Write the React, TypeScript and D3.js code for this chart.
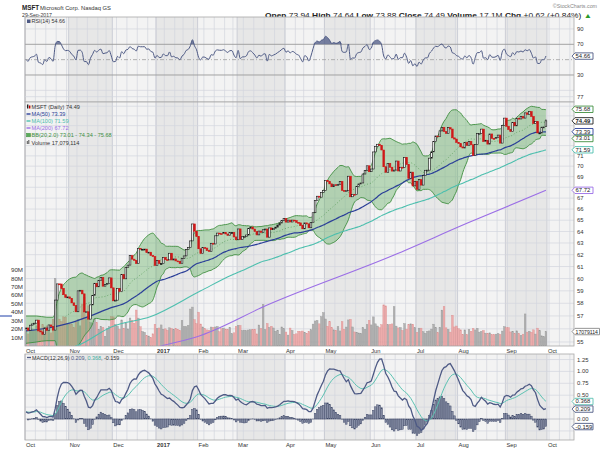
import React from "react";
import * as d3 from "d3";

// ---------------- DATA ----------------
const MONTHS = [
  { year: 2016, month: 9, label: "Oct", days: [3,4,5,6,7,10,11,12,13,14,17,18,19,20,21,24,25,26,27,28,31] },
  { year: 2016, month: 10, label: "Nov", days: [1,2,3,4,7,8,9,10,11,14,15,16,17,18,21,22,23,25,28,29,30] },
  { year: 2016, month: 11, label: "Dec", days: [1,2,5,6,7,8,9,12,13,14,15,16,19,20,21,22,23,27,28,29,30] },
  { year: 2017, month: 0, label: "2017", days: [3,4,5,6,9,10,11,12,13,17,18,19,20,23,24,25,26,27,30,31] },
  { year: 2017, month: 1, label: "Feb", days: [1,2,3,6,7,8,9,10,13,14,15,16,17,21,22,23,24,27,28] },
  { year: 2017, month: 2, label: "Mar", days: [1,2,3,6,7,8,9,10,13,14,15,16,17,20,21,22,23,24,27,28,29,30,31] },
  { year: 2017, month: 3, label: "Apr", days: [3,4,5,6,7,10,11,12,13,17,18,19,20,21,24,25,26,27,28] },
  { year: 2017, month: 4, label: "May", days: [1,2,3,4,5,8,9,10,11,12,15,16,17,18,19,22,23,24,25,26,30,31] },
  { year: 2017, month: 5, label: "Jun", days: [1,2,5,6,7,8,9,12,13,14,15,16,19,20,21,22,23,26,27,28,29,30] },
  { year: 2017, month: 6, label: "Jul", days: [3,5,6,7,10,11,12,13,14,17,18,19,20,21,24,25,26,27,28,31] },
  { year: 2017, month: 7, label: "Aug", days: [1,2,3,4,7,8,9,10,11,14,15,16,17,18,21,22,23,24,25,28,29,30,31] },
  { year: 2017, month: 8, label: "Sep", days: [1,5,6,7,8,11,12,13,14,15,18,19,20,21,22,25,26,27,28,29] },
];
const NEXT_MONTH_LABEL = "Oct";

// daily closes (unadjusted)
const CLOSE_OCT16 = [57.42,57.24,57.64,57.74,57.80,58.04,57.19,57.11,56.92,57.42,57.22,57.66,57.53,57.25,59.66,61.00,60.99,60.63,60.10,59.87,59.92];
const CLOSE_NOV16 = [59.80,59.43,59.21,58.71,60.42,60.47,60.17,58.70,58.71,58.12,58.87,59.65,60.64,60.35,60.86,61.12,60.40,60.53,60.61,61.09,60.26];
const CLOSE_DEC16 = [59.20,59.25,60.22,59.95,61.37,61.01,61.97,62.17,62.98,62.68,62.58,62.30,63.62,63.54,63.54,63.55,63.24,63.28,62.99,62.90,62.14];
const CLOSE_JAN17 = [62.58,62.30,62.30,62.84,62.64,62.62,63.19,62.61,62.70,62.53,62.50,62.30,62.74,62.96,63.52,63.68,64.27,65.78,65.13,64.65];
const CLOSE_FEB17 = [63.58,63.17,63.68,63.64,63.43,63.34,64.06,64.00,64.72,64.57,64.53,64.52,64.62,64.49,64.36,64.62,64.62,64.23,63.98];
const CLOSE_MAR17 = [64.94,64.01,64.25,64.27,64.40,64.99,65.11,64.93,64.71,64.41,64.75,64.64,64.87,64.93,64.21,65.03,64.87,64.98,65.10,65.29,65.47,65.71,65.86];
const CLOSE_APR17 = [65.55,65.73,65.56,65.73,65.68,65.53,65.48,65.23,64.95,65.48,65.39,65.04,65.50,66.40,67.53,67.92,67.83,68.27,68.46];
const CLOSE_MAY17 = [69.41,69.30,69.08,68.81,69.00,68.94,69.04,69.31,68.46,68.38,68.43,69.41,67.48,67.71,67.69,68.45,68.68,68.77,69.62,69.96,70.41,69.84];
const CLOSE_JUN17 = [70.10,71.76,72.28,72.52,72.39,71.95,70.32,69.78,70.65,70.27,69.90,70.00,70.87,69.91,70.27,70.26,71.21,70.53,69.21,69.80,68.49,68.93];
const CLOSE_JUL17 = [68.17,69.08,68.57,69.46,69.98,69.99,71.15,71.77,72.78,73.35,73.30,73.86,74.22,73.79,73.60,74.19,74.05,73.16,73.04,72.70];
const CLOSE_AUG17 = [72.58,72.26,72.15,72.68,72.40,72.79,72.47,71.41,72.50,73.59,73.22,73.65,72.40,72.49,72.15,73.16,72.72,72.69,72.82,73.05,72.25,74.01,74.77];
const CLOSE_SEP17 = [73.94,73.61,73.40,74.34,73.98,74.76,74.68,74.93,74.77,75.31,75.16,75.44,74.94,74.21,74.41,73.26,73.26,73.85,73.87,74.49];

// daily volume, millions
const VOL_OCT16 = [19.2,14.3,19.5,20.1,19.1,23.8,27.3,20.6,25.2,22.4,23.8,19.1,15.5,31.6,80.0,54.1,31.8,28.9,34.5,34.0,26.7];
const VOL_NOV16 = [26.0,25.8,21.9,28.6,31.4,23.8,49.6,57.8,33.8,47.4,27.6,27.1,32.1,27.8,19.7,23.2,21.9,11.5,20.7,22.7,34.7];
const VOL_DEC16 = [34.4,25.5,23.5,19.9,30.8,21.1,27.3,20.2,33.1,30.4,27.0,42.5,33.0,22.7,17.1,16.2,12.4,11.8,10.1,14.4,25.6];
const VOL_JAN17 = [20.7,21.3,24.9,19.9,20.3,18.6,21.5,20.6,19.2,20.7,19.7,18.5,30.2,23.1,22.8,24.5,43.7,46.0,31.1,26.4];
const VOL_FEB17 = [40.0,26.0,22.5,20.4,19.0,18.7,22.4,22.1,22.5,23.1,16.9,20.5,21.2,20.0,19.4,22.0,14.5,15.6,23.1];
const VOL_MAR17 = [24.5,24.2,18.2,18.7,18.0,18.9,19.2,19.4,19.9,14.3,24.8,20.6,49.2,19.5,26.6,22.0,23.4,21.3,17.5,18.7,13.8,22.5,20.6];
const VOL_APR17 = [16.5,12.9,21.2,18.4,13.7,14.4,17.5,17.1,17.7,16.0,14.9,17.2,19.2,25.9,29.6,30.2,26.2,34.7,39.5];
const VOL_MAY17 = [31.9,23.4,28.8,21.7,19.1,18.6,22.9,17.8,28.8,19.7,22.4,30.8,31.6,22.5,16.6,16.3,15.4,14.8,21.9,19.8,25.4,30.4];
const VOL_JUN17 = [24.9,34.4,26.2,23.6,21.7,25.2,48.6,47.4,25.3,25.5,26.1,46.5,23.5,21.4,21.9,18.5,26.5,19.9,25.4,26.2,25.7,21.6];
const VOL_JUL17 = [16.2,21.1,21.1,16.9,15.0,17.4,17.8,20.0,25.8,21.8,15.7,22.0,42.4,46.7,21.5,19.6,16.4,36.4,22.5,23.6];
const VOL_AUG17 = [20.4,19.1,13.6,19.0,13.5,19.5,17.5,20.8,19.0,21.0,16.4,17.4,18.4,15.2,14.9,15.5,13.3,13.6,14.0,14.7,13.7,17.7,22.9];
const VOL_SEP17 = [21.6,21.6,16.6,17.4,14.7,17.9,14.8,12.6,14.0,37.9,16.4,17.5,16.2,19.1,14.1,21.1,18.2,12.0,10.9,17.08];

const EX_DIV_DATES = ["2016-11-15", "2017-02-14", "2017-05-16", "2017-08-15"];
const EX_DIV_AMOUNTS = [0.39, 0.39, 0.39, 0.39];

const LAST_OPEN = 73.94;
const LAST_HIGH = 74.64;
const LAST_LOW = 73.88;

// indicator values before enough history is on the chart
const MA50_EARLY_IDX = [0, 10, 20, 30, 40];
const MA50_EARLY_VAL = [55.85, 56.05, 56.4, 56.95, 57.6];
const MA100_EARLY_IDX = [15, 25, 41, 60, 84];
const MA100_EARLY_VAL = [54.3, 54.75, 56.15, 56.95, 59.0];
const MA200_IDX = [55, 65, 84, 116, 177, 212, 250];
const MA200_VAL = [54.3, 54.7, 55.5, 57.86, 61.97, 64.72, 67.72];
const BB_EARLY_IDX = [0, 5, 10, 13, 14, 15, 16, 17, 18];
const BB_EARLY_UP = [57.0, 57.0, 56.9, 56.9, 57.3, 58.2, 58.8, 59.2, 59.5];
const BB_EARLY_LO = [54.9, 55.0, 55.1, 55.1, 55.1, 54.5, 54.2, 54.15, 54.2];
const RSI_SEED_GAIN = 0.16;
const RSI_SEED_LOSS = 0.16;
const MACD_SEED = 0.15;
const SIGNAL_SEED = 0.15;

// labels
const PRICE_TICKS = [55,56,57,58,59,60,61,62,63,64,65,66,67,68,69,70,71,72,73,74,75,76,77];
const VOL_TICKS = [10,20,30,40,50,60,70,80,90];
const RSI_TICKS = [90,70,50,30];
const MACD_TICKS = [-0.25,0,0.25,0.5,0.75,1,1.25];
const LEGEND_PRICE = "MSFT (Daily) 74.49";
const LEGEND_MA50 = "MA(50) 73.39";
const LEGEND_MA100 = "MA(100) 71.59";
const LEGEND_MA200 = "MA(200) 67.72";
const LEGEND_BB = "BB(20,2.0) 73.01 - 74.34 - 75.68";
const LEGEND_VOL = "Volume 17,079,114";
const TAG_VALUES = { bbUp: 75.68, close: 74.49, ma50: 73.39, bbLo: 73.01, ma100: 71.59, ma200: 67.72, vol: 17.079114, rsi: 54.66, macd: 0.209, signal: 0.368, hist: -0.159 };

// ---------------- DERIVED ----------------
const DATES: Date[] = [];
const MONTH_STARTS: { i: number; label: string; bold: boolean }[] = [];
MONTHS.forEach((m) => {
  MONTH_STARTS.push({ i: DATES.length, label: m.label, bold: m.label === "2017" });
  m.days.forEach((d) => DATES.push(new Date(m.year, m.month, d)));
});
const RAW = [CLOSE_OCT16, CLOSE_NOV16, CLOSE_DEC16, CLOSE_JAN17, CLOSE_FEB17, CLOSE_MAR17, CLOSE_APR17, CLOSE_MAY17, CLOSE_JUN17, CLOSE_JUL17, CLOSE_AUG17, CLOSE_SEP17].flat();
const VOLS = [VOL_OCT16, VOL_NOV16, VOL_DEC16, VOL_JAN17, VOL_FEB17, VOL_MAR17, VOL_APR17, VOL_MAY17, VOL_JUN17, VOL_JUL17, VOL_AUG17, VOL_SEP17].flat();
const N = Math.min(DATES.length, RAW.length);
MONTH_STARTS.push({ i: DATES.length, label: NEXT_MONTH_LABEL, bold: false });

const fmt = d3.timeFormat("%Y-%m-%d");
const CLOSE = RAW.slice(0, N);
EX_DIV_DATES.forEach((ds, k) => {
  const e = DATES.findIndex((d) => fmt(d) === ds);
  if (e > 0) {
    const f = 1 - EX_DIV_AMOUNTS[k] / RAW[e - 1];
    for (let i = 0; i < e; i++) CLOSE[i] *= f;
  }
});
const OPEN = CLOSE.map((c, i) => (i === 0 ? c : CLOSE[i - 1]));
OPEN[N - 1] = LAST_OPEN;

const mean = (a: number[]) => a.reduce((s, v) => s + v, 0) / a.length;
const sma = (i: number, n: number) => mean(CLOSE.slice(i - n + 1, i + 1));

type P = { i: number; v: number };
const MA50: P[] = MA50_EARLY_IDX.map((i, k) => ({ i, v: MA50_EARLY_VAL[k] }));
for (let i = 49; i < N; i++) MA50.push({ i, v: sma(i, 50) });
const MA100: P[] = MA100_EARLY_IDX.map((i, k) => ({ i, v: MA100_EARLY_VAL[k] }));
for (let i = 99; i < N; i++) MA100.push({ i, v: sma(i, 100) });
const MA200: P[] = MA200_IDX.map((i, k) => ({ i, v: MA200_VAL[k] }));

type B = { i: number; up: number; lo: number; mid: number };
const BB: B[] = BB_EARLY_IDX.map((i, k) => ({ i, up: BB_EARLY_UP[k], lo: BB_EARLY_LO[k], mid: (BB_EARLY_UP[k] + BB_EARLY_LO[k]) / 2 }));
for (let i = 19; i < N; i++) {
  const w = CLOSE.slice(i - 19, i + 1);
  const m = mean(w);
  const sd = Math.sqrt(mean(w.map((x) => (x - m) * (x - m))));
  BB.push({ i, up: m + 2 * sd, lo: m - 2 * sd, mid: m });
}

const RSI: P[] = [];
{
  let ag = RSI_SEED_GAIN, al = RSI_SEED_LOSS;
  RSI.push({ i: 0, v: 100 - 100 / (1 + ag / al) });
  for (let i = 1; i < N; i++) {
    const ch = CLOSE[i] - CLOSE[i - 1];
    ag = (ag * 13 + Math.max(ch, 0)) / 14;
    al = (al * 13 + Math.max(-ch, 0)) / 14;
    RSI.push({ i, v: 100 - 100 / (1 + ag / al) });
  }
}

const MACD: { i: number; m: number; s: number; h: number }[] = [];
{
  let e12 = CLOSE[0], e26 = CLOSE[0] - MACD_SEED, sig = SIGNAL_SEED;
  const a12 = 2 / 13, a26 = 2 / 27, a9 = 2 / 10;
  for (let i = 0; i < N; i++) {
    if (i > 0) {
      e12 = e12 + a12 * (CLOSE[i] - e12);
      e26 = e26 + a26 * (CLOSE[i] - e26);
    }
    const m = e12 - e26;
    if (i > 0) sig = sig + a9 * (m - sig);
    MACD.push({ i, m, s: sig, h: m - sig });
  }
}

// week starts for vertical grid
const WEEK_STARTS: number[] = [];
for (let i = 1; i < N; i++) {
  if (+d3.timeMonday.floor(DATES[i]) !== +d3.timeMonday.floor(DATES[i - 1])) WEEK_STARTS.push(i);
}
for (let k = N + 1; k < 264; k += 5) WEEK_STARTS.push(k);

// ---------------- LAYOUT ----------------
const PL = 25, PR = 574;
const RSI_T = 17, RSI_B = 102;
const MAIN_T = 102, MAIN_B = 346;
const MACD_T = 354, MACD_B = 440;

const x = d3.scaleLinear().domain([-0.5, 263.5]).range([PL, PR]);
const yP = d3.scaleLog().domain([54.7, 76.44]).range([MAIN_B, MAIN_T]);
const yV = d3.scaleLinear().domain([0, 100]).range([MAIN_B, MAIN_B - 84.6]);
const yR = d3.scaleLinear().domain([-5.2, 105.6]).range([RSI_B, RSI_T]);
const yM = d3.scaleLinear().domain([-0.441, 1.366]).range([MACD_B, MACD_T]);

const FONT = "Liberation Sans, Arial, sans-serif";
const C_MA50 = "#2b3f98";
const C_MA100 = "#4dbfae";
const C_MA200 = "#9b6ee6";
const C_BB = "#3f8f3f";
const C_SLATE = "#4e5a85";
const TAG_H = 6.8;

type TagDef = { y: number; text: string; color: string; bold?: boolean; w?: number; fs?: number };

// push overlapping tags apart, as the chart does
function layoutTags(tags: TagDef[]): TagDef[] {
  const s = tags.slice().sort((a, b) => a.y - b.y).map((t) => ({ ...t }));
  for (let k = 1; k < s.length; k++) {
    if (s[k].y - s[k - 1].y < TAG_H) s[k].y = s[k - 1].y + TAG_H;
  }
  return s;
}

function Tag({ t }: { t: TagDef }) {
  const x0 = 572;
  const w = t.w || 21;
  const h = TAG_H - 0.4;
  const d = `M${x0},${t.y} L${x0 + 3},${t.y - h / 2} L${x0 + w},${t.y - h / 2} L${x0 + w},${t.y + h / 2} L${x0 + 3},${t.y + h / 2} Z`;
  return (
    <g>
      <path d={d} fill="#fff" stroke={t.color} strokeWidth={0.9} />
      <text x={x0 + 3.6} y={t.y + 2} fontSize={t.fs || 5.9} fontFamily={FONT} fill="#222" fontWeight={t.bold ? 700 : 400}>{t.text}</text>
    </g>
  );
}

function Background({ top, bottom }: { top: number; bottom: number }) {
  return (
    <g>
      <rect x={PL} y={top} width={PR - PL} height={bottom - top} fill="#f3f3f3" />
      {MONTH_STARTS.slice(0, -1).map((ms, k) =>
        k % 2 === 1 ? (
          <rect key={k} x={x(ms.i - 0.5)} y={top} width={x(MONTH_STARTS[k + 1].i - 0.5) - x(ms.i - 0.5)} height={bottom - top} fill="#e7e7e7" />
        ) : null
      )}
      {WEEK_STARTS.map((i) => (
        <line key={i} x1={x(i - 0.5)} x2={x(i - 0.5)} y1={top} y2={bottom} stroke="#d3d6de" strokeWidth={0.7} />
      ))}
      {MONTH_STARTS.map((ms, k) => (
        <line key={"m" + k} x1={x(ms.i - 0.5)} x2={x(ms.i - 0.5)} y1={top} y2={bottom} stroke="#c8cbd4" strokeWidth={0.9} />
      ))}
    </g>
  );
}

function AxisLabels({ ticks, scale, tags, format }: { ticks: number[]; scale: (v: number) => number; tags: TagDef[]; format: (v: number) => string }) {
  return (
    <g>
      {ticks
        .filter((v) => tags.every((t) => Math.abs(scale(v) - t.y) > 5))
        .map((v) => (
          <text key={v} x={577} y={scale(v) + 2} fontSize={5.9} fill="#333">{format(v)}</text>
        ))}
    </g>
  );
}

export default function App() {
  const lineP = (s: (v: number) => number) =>
    d3.line<P>().x((d) => x(d.i)).y((d) => s(d.v)).curve(d3.curveMonotoneX);
  const bbArea = d3.area<B>().x((d) => x(d.i)).y0((d) => yP(d.lo)).y1((d) => yP(d.up)).curve(d3.curveMonotoneX);
  const bbUp = d3.line<B>().x((d) => x(d.i)).y((d) => yP(d.up)).curve(d3.curveMonotoneX);
  const bbLo = d3.line<B>().x((d) => x(d.i)).y((d) => yP(d.lo)).curve(d3.curveMonotoneX);
  const bbMid = d3.line<B>().x((d) => x(d.i)).y((d) => yP(d.mid)).curve(d3.curveMonotoneX);
  const rsiOver = d3.area<P>().x((d) => x(d.i)).y0(yR(70)).y1((d) => yR(Math.max(70, d.v)));
  const macdLine = d3.line<{ i: number; m: number }>().x((d) => x(d.i)).y((d) => yM(d.m));
  const sigLine = d3.line<{ i: number; s: number }>().x((d) => x(d.i)).y((d) => yM(d.s));

  const bw = 1.7;

  const mainTags = layoutTags([
    { y: yP(TAG_VALUES.bbUp), text: TAG_VALUES.bbUp.toFixed(2), color: C_BB },
    { y: yP(TAG_VALUES.close), text: TAG_VALUES.close.toFixed(2), color: "#222", bold: true },
    { y: yP(TAG_VALUES.ma50), text: TAG_VALUES.ma50.toFixed(2), color: C_MA50 },
    { y: yP(TAG_VALUES.bbLo), text: TAG_VALUES.bbLo.toFixed(2), color: C_BB },
    { y: yP(TAG_VALUES.ma100), text: TAG_VALUES.ma100.toFixed(2), color: C_MA100 },
    { y: yP(TAG_VALUES.ma200), text: TAG_VALUES.ma200.toFixed(2), color: C_MA200 },
    { y: yV(TAG_VALUES.vol), text: "17079114", color: "#888", w: 27.5, fs: 5.1 },
  ]);
  const rsiTags = [{ y: yR(TAG_VALUES.rsi), text: TAG_VALUES.rsi.toFixed(2), color: C_SLATE }];
  const macdTags = layoutTags([
    { y: yM(TAG_VALUES.signal), text: TAG_VALUES.signal.toFixed(3), color: "#5cc2b2" },
    { y: yM(TAG_VALUES.macd), text: TAG_VALUES.macd.toFixed(3), color: C_SLATE },
    { y: yM(TAG_VALUES.hist), text: TAG_VALUES.hist.toFixed(3), color: C_SLATE },
  ]);

  return (
    <svg width={600} height={450} style={{ position: "absolute", left: 0, top: 0, background: "#fff" }} fontFamily={FONT}>
      <defs>
        <clipPath id="cMain"><rect x={PL} y={MAIN_T} width={PR - PL} height={MAIN_B - MAIN_T} /></clipPath>
        <clipPath id="cRsi"><rect x={PL} y={RSI_T} width={PR - PL} height={RSI_B - RSI_T} /></clipPath>
        <clipPath id="cMacd"><rect x={PL} y={MACD_T} width={PR - PL} height={MACD_B - MACD_T} /></clipPath>
      </defs>

      {/* Header */}
      <text x={22} y={9.5} fontSize={6.3} fontWeight={700} fill="#222">MSFT</text>
      <text x={40} y={9.5} fontSize={5.6} fill="#333" textLength={71} lengthAdjust="spacingAndGlyphs">Microsoft Corp.  Nasdaq GS</text>
      <text x={22} y={17} fontSize={5.8} fill="#333" textLength={30} lengthAdjust="spacingAndGlyphs">29-Sep-2017</text>
      <text x={597} y={7.5} fontSize={5.3} fill="#888" textAnchor="end">©StockCharts.com</text>
      <text x={265} y={17.5} fontSize={6.8} fill="#222" textLength={327} lengthAdjust="spacingAndGlyphs">
        <tspan fontWeight={700}>Open</tspan> 73.94 <tspan fontWeight={700}>High</tspan> 74.64 <tspan fontWeight={700}>Low</tspan> 73.88 <tspan fontWeight={700}>Close</tspan> 74.49 <tspan fontWeight={700}>Volume</tspan> 17.1M <tspan fontWeight={700}>Chg</tspan> +0.62 (+0.84%) <tspan fill="#2a9a2a">▲</tspan>
      </text>

      {/* ---------- RSI panel ---------- */}
      <Background top={RSI_T} bottom={RSI_B} />
      {[10, 90].map((v) => (
        <line key={v} x1={PL} x2={PR} y1={yR(v)} y2={yR(v)} stroke="#d3d6de" strokeWidth={0.7} />
      ))}
      {[70, 30].map((v) => (
        <line key={v} x1={PL} x2={PR} y1={yR(v)} y2={yR(v)} stroke="#9a9a9a" strokeWidth={0.9} />
      ))}
      <line x1={PL} x2={PR} y1={yR(50)} y2={yR(50)} stroke="#a0a0a0" strokeWidth={0.8} strokeDasharray="4,2,1,2" />
      <g clipPath="url(#cRsi)">
        <path d={rsiOver(RSI) || ""} fill={C_SLATE} opacity={0.75} />
        <path d={lineP(yR)(RSI) || ""} fill="none" stroke={C_SLATE} strokeWidth={1} />
      </g>
      <rect x={PL} y={RSI_T} width={PR - PL} height={RSI_B - RSI_T} fill="none" stroke="#a9a9a9" strokeWidth={0.8} />
      <rect x={27} y={19.5} width={3.5} height={3.5} fill={C_SLATE} />
      <text x={31.5} y={23} fontSize={5.4} fill="#333">RSI(14) 54.66</text>
      <AxisLabels ticks={RSI_TICKS} scale={yR} tags={rsiTags} format={(v) => String(v)} />
      {rsiTags.map((t, k) => <Tag key={k} t={t} />)}

      {/* ---------- MAIN panel ---------- */}
      <Background top={MAIN_T} bottom={MAIN_B} />
      {PRICE_TICKS.map((v) => (
        <line key={v} x1={PL} x2={PR} y1={yP(v)} y2={yP(v)} stroke="#d3d6de" strokeWidth={0.7} />
      ))}
      <g clipPath="url(#cMain)">
        {/* volume */}
        {VOLS.slice(0, N).map((v, i) => {
          const up = i === 0 || CLOSE[i] >= CLOSE[i - 1];
          return (
            <rect key={i} x={x(i) - bw / 2} y={yV(v)} width={bw} height={MAIN_B - yV(v)}
              fill={up ? "#ababab" : "#eda5a5"} stroke={up ? "#929292" : "#dc8a8a"} strokeWidth={0.4} opacity={0.9} />
          );
        })}
        {/* Bollinger */}
        <path d={bbArea(BB) || ""} fill="#5aab5a" fillOpacity={0.38} />
        <path d={bbUp(BB) || ""} fill="none" stroke={C_BB} strokeWidth={0.9} />
        <path d={bbLo(BB) || ""} fill="none" stroke={C_BB} strokeWidth={0.9} />
        <path d={bbMid(BB.filter((d) => d.i >= 19)) || ""} fill="none" stroke={C_BB} strokeWidth={0.6} strokeDasharray="1,2" />
        {/* moving averages */}
        <path d={lineP(yP)(MA200) || ""} fill="none" stroke={C_MA200} strokeWidth={1.1} />
        <path d={lineP(yP)(MA100) || ""} fill="none" stroke={C_MA100} strokeWidth={1.1} />
        <path d={lineP(yP)(MA50) || ""} fill="none" stroke={C_MA50} strokeWidth={1.2} />
        {/* candles */}
        {CLOSE.map((c, i) => {
          const o = OPEN[i];
          const up = i === 0 || c >= CLOSE[i - 1];
          const top = yP(Math.max(o, c));
          const h = Math.max(0.9, yP(Math.min(o, c)) - top);
          const col = up ? "#111" : "#d01818";
          const hollow = c > o;
          return (
            <g key={i}>
              {i === N - 1 && (
                <line x1={x(i)} x2={x(i)} y1={yP(LAST_HIGH)} y2={yP(LAST_LOW)} stroke={col} strokeWidth={0.7} />
              )}
              <rect x={x(i) - bw / 2} y={top} width={bw} height={h}
                fill={hollow ? "#f4f4f4" : col} stroke={col} strokeWidth={0.6} />
            </g>
          );
        })}
      </g>
      <rect x={PL} y={MAIN_T} width={PR - PL} height={MAIN_B - MAIN_T} fill="none" stroke="#a9a9a9" strokeWidth={0.8} />

      {/* main legend */}
      <g fontSize={5.6}>
        <rect x={27} y={104.5} width={1.4} height={4} fill="#222" />
        <rect x={29} y={105.5} width={1.4} height={3} fill="#c00" />
        <text x={31.5} y={108.7} fill="#333">{LEGEND_PRICE}</text>
        <line x1={26.5} x2={30.5} y1={114} y2={114} stroke={C_MA50} strokeWidth={1.4} />
        <text x={31.5} y={116} fill={C_MA50}>{LEGEND_MA50}</text>
        <line x1={26.5} x2={30.5} y1={121} y2={121} stroke={C_MA100} strokeWidth={1.4} />
        <text x={31.5} y={123} fill={C_MA100}>{LEGEND_MA100}</text>
        <line x1={26.5} x2={30.5} y1={128} y2={128} stroke={C_MA200} strokeWidth={1.4} />
        <text x={31.5} y={130} fill={C_MA200}>{LEGEND_MA200}</text>
        <rect x={26.5} y={133.3} width={4} height={3.5} fill="#5aab5a" stroke={C_BB} strokeWidth={0.5} />
        <text x={31.5} y={137.3} fill={C_BB}>{LEGEND_BB}</text>
        <rect x={26.8} y={141} width={1} height={3} fill="#555" />
        <rect x={28.3} y={140} width={1} height={4} fill="#555" />
        <text x={31.5} y={144.5} fill="#333">{LEGEND_VOL}</text>
      </g>

      {/* price axis */}
      <AxisLabels ticks={PRICE_TICKS} scale={yP} tags={mainTags} format={(v) => String(v)} />
      {mainTags.map((t, k) => <Tag key={k} t={t} />)}

      {/* volume axis */}
      {VOL_TICKS.map((v) => (
        <text key={v} x={23} y={yV(v) + 2.2} fontSize={6.2} fill="#333" textAnchor="end">{v}M</text>
      ))}
      <line x1={0} x2={12} y1={316} y2={316} stroke="#1f3fa8" strokeWidth={1} />

      {/* date labels between panels */}
      {MONTH_STARTS.map((ms, k) => (
        <text key={k} x={x(ms.i - 0.5) + 1} y={352.5} fontSize={5.8} fill="#333" fontWeight={ms.bold ? 700 : 400}>{ms.label}</text>
      ))}

      {/* ---------- MACD panel ---------- */}
      <Background top={MACD_T} bottom={MACD_B} />
      {MACD_TICKS.map((v) => (
        <line key={v} x1={PL} x2={PR} y1={yM(v)} y2={yM(v)} stroke={v === 0 ? "#b5b8c0" : "#d3d6de"} strokeWidth={0.7} />
      ))}
      <g clipPath="url(#cMacd)">
        {MACD.map((d) => (
          <rect key={d.i} x={x(d.i) - 0.8} y={Math.min(yM(0), yM(d.h))} width={1.6} height={Math.abs(yM(d.h) - yM(0))}
            fill="#8a91a8" stroke="#3e4868" strokeWidth={0.5} />
        ))}
        <path d={sigLine(MACD) || ""} fill="none" stroke="#5cc2b2" strokeWidth={1} />
        <path d={macdLine(MACD) || ""} fill="none" stroke={C_SLATE} strokeWidth={1.3} />
      </g>
      <rect x={PL} y={MACD_T} width={PR - PL} height={MACD_B - MACD_T} fill="none" stroke="#a9a9a9" strokeWidth={0.8} />
      <line x1={27} x2={31} y1={357.5} y2={357.5} stroke={C_SLATE} strokeWidth={1.3} />
      <text x={32} y={359.5} fontSize={5.4} fill="#333">
        MACD(12,26,9) <tspan fill={C_SLATE}>0.209</tspan>, <tspan fill="#3fb0a0">0.368</tspan>, -0.159
      </text>
      <AxisLabels ticks={MACD_TICKS} scale={yM} tags={macdTags} format={(v) => v.toFixed(2)} />
      {macdTags.map((t, k) => <Tag key={k} t={t} />)}
      {MONTH_STARTS.map((ms, k) => (
        <text key={k} x={x(ms.i - 0.5) + 1} y={446.5} fontSize={5.8} fill="#333" fontWeight={ms.bold ? 700 : 400}>{ms.label}</text>
      ))}
    </svg>
  );
}
